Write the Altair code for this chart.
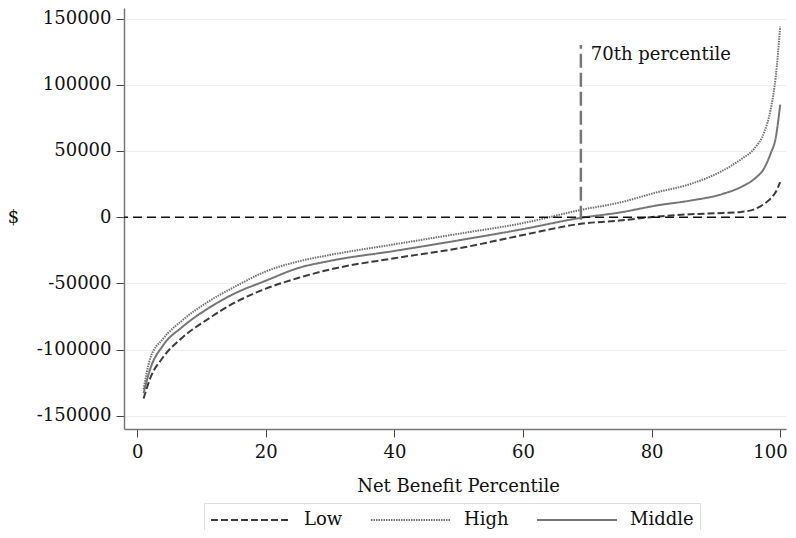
import altair as alt
import pandas as pd

# Net benefit percentile (x) and dollar values (y)
pct = [1, 2, 4, 7, 11, 15, 20, 25, 30, 40, 50, 60, 69, 75, 81, 86, 91, 94, 96, 97.5, 98.5, 99.3, 100]
low = [-137000, -122000, -106000, -91000, -77000, -65000, -54000, -46000, -39500, -31000, -23500, -13500,
       -5000, -2500, 500, 2200, 3200, 4000, 6000, 10000, 14000, 19000, 26500]
high = [-130000, -107000, -92000, -78000, -64000, -53000, -41000, -33500, -28500, -20500, -12500, -4500,
        5500, 11000, 19000, 25000, 35000, 44000, 52000, 64000, 81000, 106000, 144000]
middle = [-133000, -115000, -97000, -83000, -69000, -58000, -48000, -38500, -33000, -25500, -17500, -9000,
          -500, 3500, 9000, 12500, 17500, 23000, 29000, 37000, 48000, 60000, 85000]

series_names = ["Low", "High", "Middle"]
series_colors = ["#3a3a3a", "#707070", "#767676"]
series_dash = [[7, 3], [1.5, 1], [1, 0]]
series_width = [2, 2, 3]

x_ticks = [0, 20, 40, 60, 80, 100]
y_ticks = [-150000, -100000, -50000, 0, 50000, 100000, 150000]

marker_pct = [69]
marker_bottom = [-2000]
marker_top = [130000]
marker_label = ["70th percentile"]
zero_level = [0]

FONT = "DejaVu Serif"

rows = []
for name, vals in zip(series_names, [low, high, middle]):
    for p, v in zip(pct, vals):
        rows.append({"pct": p, "value": v, "series": name})
df = pd.DataFrame(rows)

x_scale = alt.Scale(domain=[-2.05, 100.9], nice=False, zero=False)
y_scale = alt.Scale(domain=[-160000, 158000], nice=False, zero=False)

legend = alt.Legend(
    orient="none", legendX=80, legendY=495, direction="horizontal", columns=3,
    title=None, symbolType="M-1,0L7,0", symbolSize=400, labelOffset=72,
    columnPadding=24, padding=6, strokeColor="#dddddd",
    labelFont=FONT, labelFontSize=18, labelColor="#111111",
)

x_axis = alt.Axis(values=x_ticks, title="Net Benefit Percentile", grid=False,
                  tickSize=8, labelPadding=6, titleBaseline="alphabetic", titleY=62, titleX=334,
                  labelFlush=10, labelFlushOffset=7)
y_axis = alt.Axis(values=y_ticks, title="$", titleAngle=0, titleX=-111, titleY=209,
                  titleAlign="center", titleBaseline="middle", grid=True,
                  gridColor="#eeeeee", gridWidth=1, tickSize=8, labelPadding=5,
                  labelExpr="'' + datum.value")

lines = alt.Chart(df).mark_line(interpolate="monotone", clip=True).encode(
    x=alt.X("pct:Q", scale=x_scale, axis=x_axis),
    y=alt.Y("value:Q", scale=y_scale, axis=y_axis),
    color=alt.Color("series:N", scale=alt.Scale(domain=series_names, range=series_colors), legend=legend),
    strokeDash=alt.StrokeDash("series:N", scale=alt.Scale(domain=series_names, range=series_dash), legend=legend),
    strokeWidth=alt.StrokeWidth("series:N", scale=alt.Scale(domain=series_names, range=series_width), legend=legend),
    order=alt.Order("pct:Q"),
)

zero_df = pd.DataFrame({"y": zero_level})
zero_line = alt.Chart(zero_df).mark_rule(color="#111111", strokeDash=[9, 5], strokeWidth=1.5).encode(
    y=alt.Y("y:Q", scale=y_scale)
)

marker_df = pd.DataFrame({"x": marker_pct, "y": marker_bottom, "y2": marker_top, "label": marker_label})
marker = alt.Chart(marker_df).mark_rule(color="#777777", strokeDash=[14, 5], strokeWidth=2.5).encode(
    x=alt.X("x:Q", scale=x_scale), y=alt.Y("y:Q", scale=y_scale), y2="y2:Q"
)
marker_text = alt.Chart(marker_df).mark_text(
    align="left", baseline="top", dx=10, dy=1, font=FONT, fontSize=18, color="#111111"
).encode(x=alt.X("x:Q", scale=x_scale), y=alt.Y("y2:Q", scale=y_scale), text="label:N")

chart = alt.layer(lines, zero_line, marker, marker_text).properties(
    width=662, height=421,
    autosize=alt.AutoSizeParams(type="none"),
    padding={"left": 116, "top": 0, "right": 2, "bottom": 101},
).configure(font=FONT).configure_view(strokeWidth=0).configure_axis(
    labelFont=FONT, labelFontSize=18, labelColor="#111111",
    titleFont=FONT, titleFontSize=18, titleFontWeight="normal", titleColor="#111111",
    domainColor="#777777", domainWidth=1.5, tickColor="#444444", tickWidth=1,
)

chart.save("out.html", embed_options={"renderer": "svg", "actions": False})
